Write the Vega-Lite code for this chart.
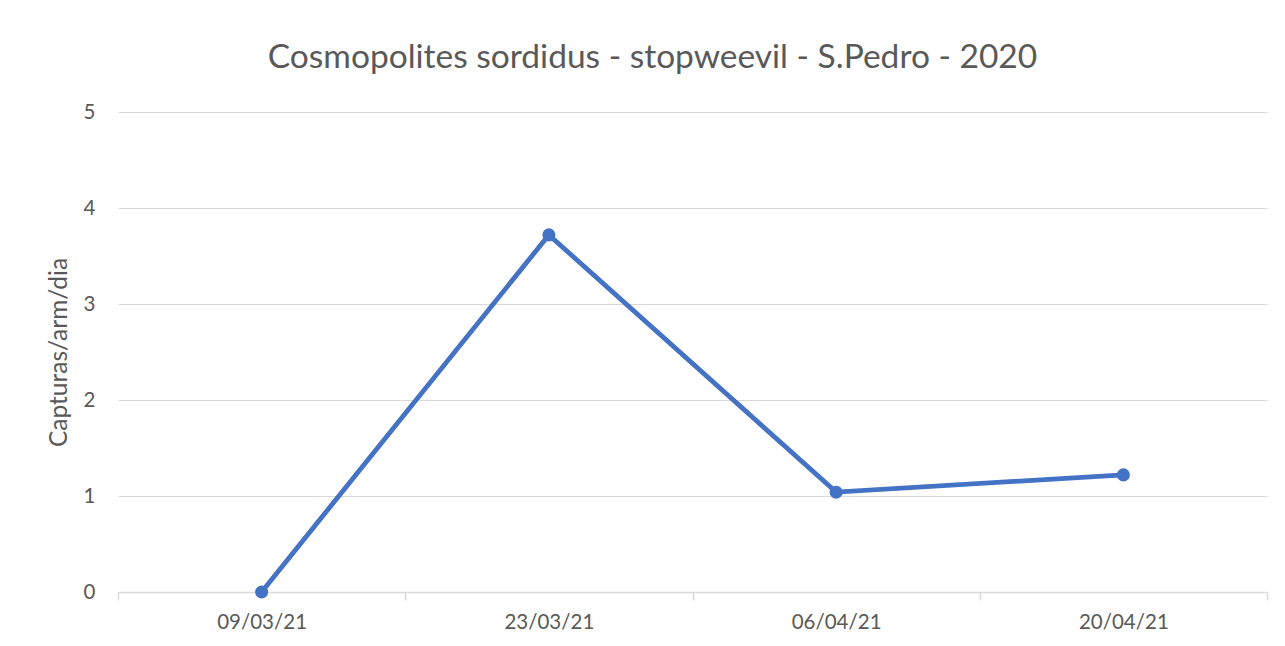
{
  "$schema": "https://vega.github.io/schema/vega-lite/v6.json",
  "width": 1149,
  "height": 480,
  "autosize": {"type": "none"},
  "padding": {"left": 118, "top": 112, "right": 18, "bottom": 54},
  "background": "white",
  "title": {
    "text": "Cosmopolites sordidus - stopweevil - S.Pedro - 2020",
    "font": "Lato",
    "fontSize": 33.5,
    "fontWeight": "normal",
    "color": "#595959",
    "offset": 27,
    "dx": -40,
    "anchor": "middle"
  },
  "data": {
    "values": [
      {"data": "09/03/21", "capturas": 0},
      {"data": "23/03/21", "capturas": 3.72},
      {"data": "06/04/21", "capturas": 1.04},
      {"data": "20/04/21", "capturas": 1.22}
    ]
  },
  "encoding": {
    "x": {
      "field": "data",
      "type": "ordinal",
      "sort": null,
      "scale": {"type": "band", "paddingInner": 0, "paddingOuter": 0},
      "axis": {
        "title": null,
        "labelAngle": 0,
        "labelFont": "Lato",
        "labelFontSize": 20.5,
        "labelColor": "#595959",
        "labelPadding": 12,
        "domainColor": "#d9d9d9",
        "domainWidth": 1.5,
        "tickColor": "#d9d9d9",
        "tickWidth": 1.5,
        "tickSize": 8,
        "tickBand": "extent",
        "grid": false
      }
    },
    "y": {
      "field": "capturas",
      "type": "quantitative",
      "scale": {"domain": [0, 5], "nice": false},
      "axis": {
        "title": "Capturas/arm/dia",
        "titleFont": "Lato",
        "titleFontSize": 24.5,
        "titleFontWeight": "normal",
        "titleColor": "#595959",
        "titlePadding": 12,
        "values": [0, 1, 2, 3, 4, 5],
        "labelFont": "Lato",
        "labelFontSize": 20.5,
        "labelColor": "#595959",
        "labelPadding": 23,
        "domain": false,
        "ticks": false,
        "grid": true,
        "gridColor": "#d9d9d9",
        "gridWidth": 1.2
      }
    }
  },
  "layer": [
    {"mark": {"type": "line", "color": "#4472C4", "strokeWidth": 4.8}},
    {"mark": {"type": "point", "filled": true, "color": "#4472C4", "opacity": 1, "size": 170}}
  ],
  "config": {"view": {"stroke": null}}
}
